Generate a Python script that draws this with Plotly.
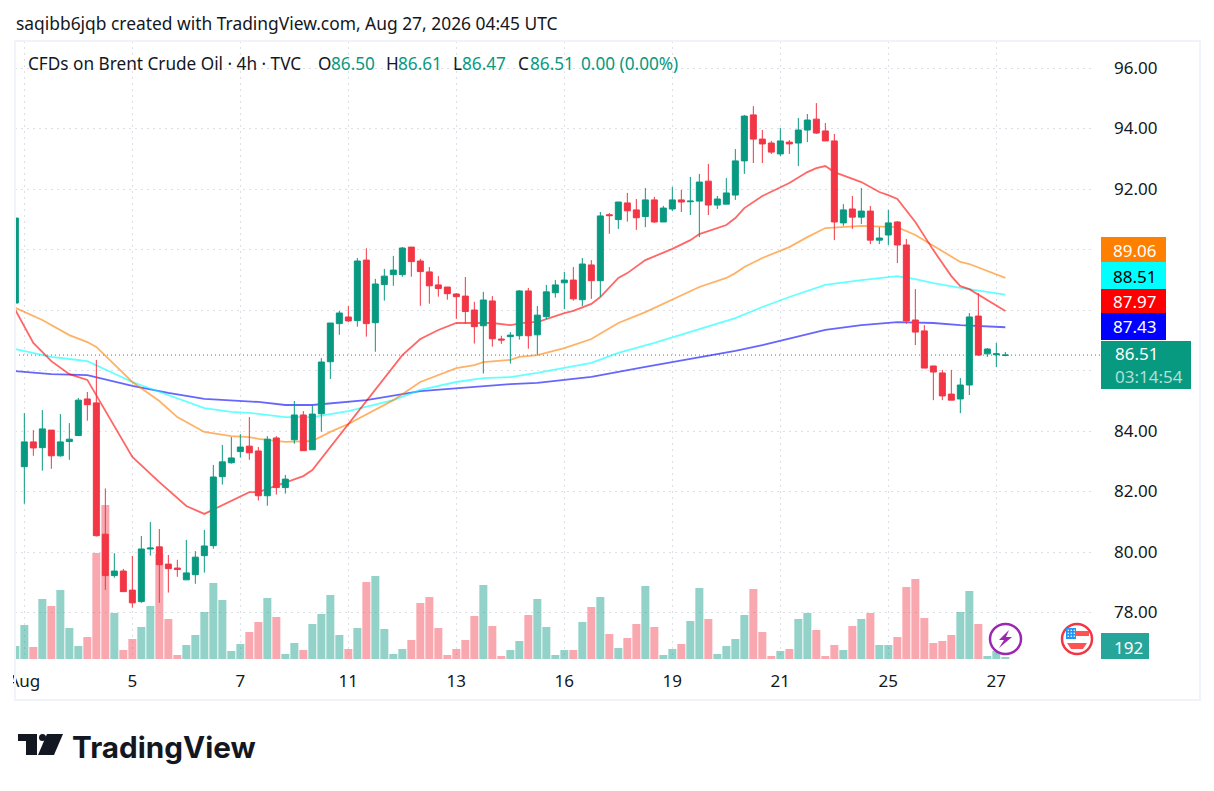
import plotly.graph_objects as go

bars = list(range(-1, 110))

opens = [88.23,
    82.82, 83.64, 83.45, 84.03, 83.18, 83.65, 83.85, 85.06, 84.93, 80.59,
    79.22, 79.37, 78.74, 78.36, 80.10, 80.17, 79.60, 79.47, 79.08, 79.25,
    79.88, 80.21, 82.49, 82.95, 83.32, 83.50, 83.34, 81.86, 83.77, 82.13,
    83.71, 84.53, 83.38, 84.57, 86.29, 87.55, 87.77, 87.65, 89.65, 87.58,
    88.84, 89.17, 89.17, 90.08, 89.62, 89.26, 88.83, 88.76, 88.53, 88.46,
    88.00, 87.48, 88.30, 87.04, 87.12, 87.15, 88.63, 87.18, 87.78, 88.57,
    88.90, 88.99, 88.34, 89.49, 88.97, 91.15, 90.99, 91.54, 91.31, 91.09,
    91.64, 90.91, 91.34, 91.64, 91.58, 91.60, 92.26, 91.47, 91.50, 91.80,
    92.93, 94.45, 93.65, 93.52, 93.16, 93.55, 93.52, 93.95, 94.31, 93.92,
    93.59, 90.88, 91.34, 91.07, 91.27, 90.31, 90.48, 90.91, 90.15, 87.67,
    87.31, 86.15, 85.92, 85.22, 85.06, 85.52, 87.80, 86.55, 86.52, 86.50]
highs = [91.40,
    84.59, 84.03, 84.69, 84.03, 84.56, 84.26, 85.09, 85.29, 86.35, 82.10,
    79.96, 79.44, 79.87, 80.53, 80.99, 80.76, 79.90, 79.74, 80.40, 80.03,
    80.73, 82.88, 83.54, 83.80, 83.90, 84.46, 83.47, 83.83, 83.83, 82.55,
    84.99, 84.66, 84.85, 86.41, 87.57, 87.97, 88.13, 89.72, 90.04, 89.03,
    89.36, 89.79, 90.08, 90.08, 89.69, 89.42, 89.12, 88.76, 88.56, 89.09,
    88.27, 88.60, 88.46, 87.15, 87.27, 88.66, 88.73, 88.13, 88.83, 88.99,
    89.26, 89.42, 89.72, 89.65, 91.24, 91.21, 91.57, 91.87, 91.67, 92.03,
    91.74, 91.44, 92.07, 91.97, 92.40, 92.50, 92.83, 91.77, 92.36, 93.32,
    94.45, 94.74, 93.95, 93.59, 94.02, 93.62, 94.35, 94.48, 94.84, 94.18,
    93.82, 91.50, 91.77, 92.03, 91.44, 90.74, 91.31, 90.94, 90.35, 88.69,
    87.50, 86.15, 86.02, 86.02, 85.75, 87.90, 88.56, 86.74, 86.91, 86.61]
lows = [88.23,
    81.60, 83.18, 82.69, 82.75, 83.15, 83.05, 83.85, 84.34, 80.51, 78.75,
    79.15, 78.69, 78.16, 78.32, 79.88, 78.32, 78.66, 79.18, 79.08, 78.95,
    79.32, 80.11, 82.23, 82.92, 83.12, 83.05, 81.70, 81.53, 81.90, 81.93,
    83.58, 83.35, 83.38, 83.98, 85.72, 87.18, 87.60, 87.45, 87.12, 86.62,
    88.31, 88.80, 89.10, 89.10, 88.14, 88.21, 88.44, 88.34, 87.71, 87.55,
    86.89, 85.90, 86.79, 86.88, 86.23, 87.02, 86.72, 86.52, 87.70, 88.41,
    88.03, 88.31, 88.13, 88.37, 88.44, 90.52, 90.68, 90.92, 90.65, 90.74,
    90.88, 90.91, 91.27, 91.24, 91.14, 90.41, 91.14, 91.34, 91.50, 91.64,
    92.50, 92.86, 92.86, 93.16, 93.09, 93.16, 92.76, 93.55, 93.82, 93.59,
    90.31, 90.78, 90.68, 90.84, 90.18, 90.18, 90.15, 89.55, 87.54, 86.84,
    86.08, 85.02, 85.02, 85.02, 84.59, 85.19, 86.48, 86.45, 86.11, 86.47]
closes = [91.04,
    83.64, 83.44, 84.07, 83.18, 83.64, 83.73, 85.02, 84.87, 80.54, 79.22,
    79.37, 78.69, 78.32, 80.10, 80.13, 79.58, 79.45, 79.42, 79.31, 79.83,
    80.20, 82.48, 82.98, 83.11, 83.47, 83.28, 81.86, 83.73, 82.13, 82.41,
    84.53, 83.35, 84.56, 86.28, 87.57, 87.90, 87.64, 89.62, 87.55, 88.86,
    89.12, 89.32, 90.05, 89.60, 89.27, 88.80, 88.71, 88.54, 88.44, 87.95,
    87.45, 88.33, 87.05, 87.01, 87.17, 88.63, 87.15, 87.83, 88.60, 88.83,
    88.99, 88.37, 89.52, 88.97, 91.11, 91.12, 91.57, 91.28, 91.05, 91.64,
    90.91, 91.37, 91.64, 91.57, 91.60, 92.23, 91.47, 91.67, 91.87, 92.93,
    94.41, 93.65, 93.49, 93.22, 93.59, 93.49, 93.95, 94.28, 93.85, 93.59,
    90.91, 91.31, 91.07, 91.27, 90.31, 90.38, 90.88, 90.15, 87.64, 87.27,
    86.08, 85.95, 85.16, 85.02, 85.52, 87.77, 86.51, 86.71, 86.55, 86.51]
volumes = [1248,
    3264, 1152, 5760, 5088, 6624, 2976, 1248, 2112, 10176, 14784,
    4416, 864, 1920, 3072, 5088, 10080, 3840, 384, 1344, 2304,
    4512, 7296, 5664, 768, 1440, 2592, 3552, 5856, 4032, 480,
    1536, 864, 3360, 4320, 6144, 2304, 960, 2976, 7392, 7968,
    2880, 480, 960, 1824, 5376, 5952, 2976, 384, 960, 1824,
    4128, 7104, 3168, 288, 864, 1728, 4224, 5760, 3072, 384,
    864, 864, 3552, 4992, 5952, 2400, 1056, 2016, 3360, 7008,
    3072, 384, 960, 1440, 3648, 6816, 3840, 480, 1248, 1920,
    4224, 6720, 2592, 288, 768, 960, 3840, 4416, 2784, 288,
    1344, 864, 3168, 3840, 4416, 1344, 1344, 2112, 6912, 7680,
    3936, 1536, 1728, 2304, 4512, 6528, 3360, 288, 768, 192]

red_x = [-1, 1, 3, 5, 7, 12, 15, 18, 20, 25, 26, 30, 31, 32, 34, 36, 38, 41, 42, 44, 46, 48, 50, 52, 54, 56, 57,
         60, 61, 63, 64, 66, 67, 69, 72, 74, 75, 78, 79, 80, 82, 84, 85, 87, 88, 89, 90, 93, 95, 96, 97, 99, 101,
         103, 104, 105, 109]
red_y = [88.00, 86.91, 86.31, 85.88, 85.69, 83.14, 82.31, 81.52, 81.26, 81.98, 81.98, 82.41, 82.51, 82.71, 83.47,
         84.23, 84.99, 86.12, 86.51, 87.04, 87.34, 87.57, 87.57, 87.57, 87.50, 87.60, 87.60, 87.90, 87.97, 88.20,
         88.43, 89.06, 89.22, 89.65, 90.02, 90.31, 90.51, 90.81, 91.04, 91.37, 91.77, 92.07, 92.20, 92.56, 92.69,
         92.76, 92.56, 92.23, 91.90, 91.80, 91.67, 90.91, 89.98, 89.12, 88.79, 88.69, 87.97]
orange_x = [-1, 2, 5, 7, 8, 12, 15, 17, 20, 23, 25, 26, 29, 32, 34, 36, 41, 44, 48, 50, 51, 54, 55, 57, 60, 61, 63,
            66, 69, 75, 78, 79, 80, 82, 85, 87, 89, 93, 97, 99, 101, 104, 105, 109]
orange_y = [88.07, 87.67, 87.17, 86.94, 86.78, 85.62, 84.99, 84.46, 83.97, 83.83, 83.80, 83.74, 83.64, 83.67, 83.97,
            84.23, 85.02, 85.62, 86.08, 86.18, 86.28, 86.35, 86.45, 86.51, 86.74, 86.84, 87.04, 87.57, 87.93, 88.76,
            89.06, 89.22, 89.42, 89.72, 90.08, 90.41, 90.71, 90.78, 90.74, 90.48, 90.12, 89.59, 89.52, 89.06]
cyan_x = [-1, 3, 5, 7, 12, 16, 20, 23, 25, 29, 32, 36, 41, 44, 48, 51, 54, 57, 60, 63, 66, 70, 75, 79, 82, 85, 89,
          93, 97, 99, 101, 104, 109]
cyan_y = [86.71, 86.45, 86.38, 86.31, 85.62, 85.19, 84.76, 84.63, 84.60, 84.46, 84.46, 84.66, 85.02, 85.36, 85.62,
          85.75, 85.78, 85.92, 86.08, 86.25, 86.58, 86.91, 87.37, 87.73, 88.10, 88.43, 88.83, 88.99, 89.12, 89.02,
          88.89, 88.73, 88.51]
blue_x = [-1, 3, 7, 12, 16, 20, 26, 29, 32, 36, 38, 44, 48, 54, 57, 63, 69, 79, 82, 89, 93, 97, 101, 104, 109]
blue_y = [85.98, 85.88, 85.85, 85.49, 85.26, 85.06, 84.96, 84.86, 84.86, 84.96, 85.02, 85.32, 85.42, 85.55, 85.59,
          85.79, 86.12, 86.65, 86.84, 87.34, 87.50, 87.60, 87.57, 87.50, 87.43]

x_tickvals = [0, 12, 24, 36, 48, 60, 72, 84, 96, 108]
x_ticktext = ["Aug", "5", "7", "11", "13", "16", "19", "21", "25", "27"]
price_ticks = [78, 80, 82, 84, 86, 88, 90, 92, 94, 96]
# 86, 88 and 90 keep their grid line but the price boxes sit where their labels would be
price_labels = ["78.00", "80.00", "82.00", "84.00", "", "", "", "92.00", "94.00", "96.00"]

UP = "#089981"
DOWN = "#F23645"
FONT = "Noto Sans"
W, H = 1214, 791
L, R, T, B = 15, 1092, 41, 659


# screen pixels to paper fractions, only used for the furniture round the plot
def px(x):
    return (x - L) / (R - L)


def py(y):
    return (B - y) / (B - T)


def note(x, y, text, color="#131722", size=17.2, anchor="left", family=FONT, weight=400):
    if anchor == "left":
        x -= 1
    return dict(xref="paper", yref="paper", x=px(x), y=py(y), text=text, showarrow=False, xanchor=anchor,
                yanchor="middle", font=dict(color=color, size=size, family=family, weight=weight))


def box(x0, y0, x1, y1, fill, line=None, kind="rect", width=0):
    return dict(type=kind, xref="paper", yref="paper", x0=px(x0), x1=px(x1), y0=py(y0), y1=py(y1),
                fillcolor=fill, line=dict(color=line or fill, width=width), layer="above")


def poly(points, fill):
    d = "M" + " L".join(f"{px(a):.5f},{py(b):.5f}" for a, b in points) + " Z"
    return dict(type="path", xref="paper", yref="paper", path=d, fillcolor=fill, line=dict(width=0), layer="above")


fig = go.Figure()
fig.add_trace(go.Bar(x=bars, y=volumes, width=0.89, yaxis="y",
                     marker=dict(color=["rgba(8,153,129,0.44)" if c >= o else "rgba(242,54,69,0.43)"
                                        for o, c in zip(opens, closes)], line=dict(width=0))))
for xs, ys, col in [(blue_x, blue_y, "rgba(0,0,255,0.6)"), (cyan_x, cyan_y, "rgba(0,255,255,0.6)"),
                    (orange_x, orange_y, "rgba(255,127,0,0.6)"), (red_x, red_y, "rgba(255,0,0,0.6)")]:
    fig.add_trace(go.Scatter(x=xs, y=ys, mode="lines", yaxis="y2", line=dict(color=col, width=1.8)))
fig.add_trace(go.Candlestick(x=bars, open=opens, high=highs, low=lows, close=closes, yaxis="y3", whiskerwidth=0,
                             increasing=dict(line=dict(color=UP, width=1), fillcolor=UP),
                             decreasing=dict(line=dict(color=DOWN, width=1), fillcolor=DOWN)))

price_range = [76.463, 96.893]
grid = dict(gridcolor="#dcdfe6", griddash="2px,4px", gridwidth=1)
fig.update_layout(
    width=W, height=H, margin=dict(l=L, r=W - R, t=T, b=H - B),
    paper_bgcolor="white", plot_bgcolor="white", showlegend=False, hovermode=False, boxgap=0.2, boxgroupgap=0.167,
    font=dict(family=FONT, color="#131722"),
    xaxis=dict(range=[-1.037, 118.63], tickvals=x_tickvals, ticktext=x_ticktext, showline=False, zeroline=False,
               automargin=False, ticks="", ticklabelstandoff=10, tickfont=dict(size=17),
               rangeslider=dict(visible=False), **grid),
    yaxis=dict(range=[0, 59328], visible=False, showgrid=False, zeroline=False, automargin=False),
    yaxis2=dict(range=price_range, overlaying="y", side="right", tickvals=price_ticks, ticktext=price_labels,
                automargin=False, ticks="", ticklabelstandoff=21, tickfont=dict(size=17), zeroline=False,
                showline=False, **grid),
    yaxis3=dict(range=price_range, overlaying="y", visible=False, showgrid=False, zeroline=False, automargin=False),
)

shapes = [
    dict(type="line", xref="paper", yref="y2", x0=0, x1=px(1100), y0=closes[-1], y1=closes[-1], layer="below",
         line=dict(color=UP, width=1, dash="1px,3px")),
    # hides the part of "Aug" that the chart pane cuts off
    box(0, 665, 13, 695, "white"),
    # pane border
    dict(type="rect", xref="paper", yref="paper", x0=px(15), x1=px(1200), y0=py(41), y1=py(700), layer="above",
         line=dict(color="#f0f3fa", width=2)),
    box(1101, 237, 1166, 262, "#FF7F00"),
    box(1101, 262, 1166, 289, "#00FFFF"),
    box(1101, 289, 1166, 313, "#FF0000"),
    box(1101, 313, 1166, 340, "#0000FF"),
    box(1101, 341, 1191, 389, UP),
    box(1101, 633, 1149, 659, "#26A69A"),
    # session icons
    box(990, 624, 1021, 654, "white", "#9C27B0", "circle", 2.5),
    poly([(1009, 630), (999, 640), (1004, 640), (999, 648), (1012, 637), (1006, 637)], "#9C27B0"),
    box(1062, 624, 1092, 654, "white", "#F23645", "circle", 2.5),
    box(1066, 628, 1076, 639, "#2196F3"),
    box(1076, 631, 1089, 636, "#FF5252"),
    poly([(1067, 643), (1087, 643), (1083, 649), (1071, 649)], "#FF5252"),
    # TradingView logo
    poly([(18, 734), (37, 734), (37, 755), (26, 755), (26, 741), (18, 741)], "#131722"),
    box(39, 734, 46, 741, "#131722", kind="circle"),
    poly([(47, 734), (63, 734), (54, 755), (38, 755)], "#131722"),
]
for a in range(3):
    for b in range(3):
        shapes.append(box(1067.5 + 3 * a, 629.5 + 3 * b, 1069 + 3 * a, 631 + 3 * b, "white", kind="circle"))

green_txt = "#089981"
annots = [
    note(15, 23, "saqibb6jqb created with TradingView.com, Aug 27, 2026 04:45 UTC", size=17.4),
    note(27, 64, "CFDs on Brent Crude Oil · 4h · TVC"),
    note(317, 64, "O"), note(330, 64, f"{opens[-1]:.2f}", green_txt),
    note(385, 64, "H"), note(397, 64, f"{highs[-1]:.2f}", green_txt),
    note(452, 64, "L"), note(461, 64, f"{lows[-1]:.2f}", green_txt),
    note(517, 64, "C"), note(529, 64, f"{closes[-1]:.2f}", green_txt),
    note(580, 64, "0.00 (0.00%)", green_txt),
    note(1134, 250, f"{orange_y[-1]:.2f}", "white", 17, "center"),
    note(1134, 276, f"{cyan_y[-1]:.2f}", "#000000", 17, "center"),
    note(1134, 301, f"{red_y[-1]:.2f}", "white", 17, "center"),
    note(1134, 326, f"{blue_y[-1]:.2f}", "white", 17, "center"),
    note(1114, 353, f"{closes[-1]:.2f}", "white", 17),
    note(1114, 376, "03:14:54", "#B2DFD6", 17),
    note(1128, 647, f"{volumes[-1]}", "white", 17, "center"),
    note(71, 747, "TradingView", "#131722", 29.7, family="Inter", weight=700),
]
fig.update_layout(shapes=shapes, annotations=annots)

fig.write_html("out.html", config=dict(displayModeBar=False), post_script="document.body.style.margin='0';")
